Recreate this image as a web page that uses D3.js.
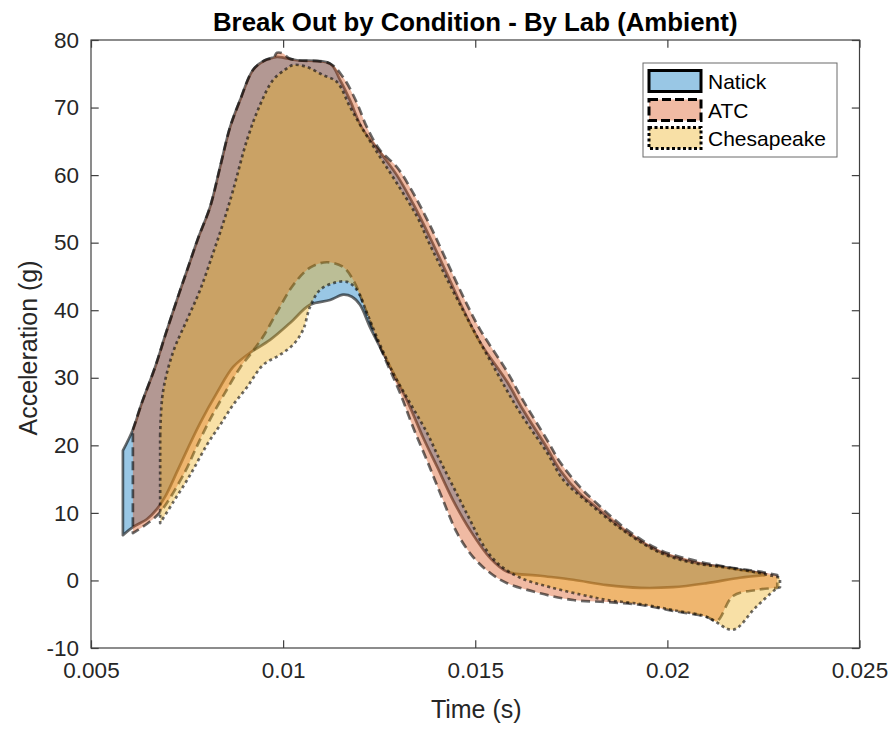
<!DOCTYPE html>
<html>
<head>
<meta charset="utf-8">
<script src="https://cdn.jsdelivr.net/npm/d3@7"></script>
<style>
  html, body { margin: 0; padding: 0; background: #fff; }
  svg { display: block; font-family: "Liberation Sans", Arial, Helvetica, sans-serif; }
</style>
</head>
<body>
<svg id="chart" width="893" height="729"></svg>
<script>
// ---------------- DATA (time in s, acceleration in g) ----------------
const seriesNames = ["Natick", "ATC", "Chesapeake"];
const xTicks = [0.005, 0.01, 0.015, 0.02, 0.025];
const xTickLabels = ["0.005", "0.01", "0.015", "0.02", "0.025"];
const yTicks = [-10, 0, 10, 20, 30, 40, 50, 60, 70, 80];
const yTickLabels = ["-10", "0", "10", "20", "30", "40", "50", "60", "70", "80"];

const natickUpper = [
  [0.00583, 19.2], [0.00609, 22.3], [0.00633, 26.4], [0.00667, 31.6], [0.00695, 36.6],
  [0.00730, 42.6], [0.00753, 46.4], [0.00779, 50.7], [0.00810, 55.3], [0.00836, 61.2],
  [0.00862, 67.1], [0.00888, 71.1], [0.00922, 75.6], [0.00953, 77.0], [0.00975, 77.4],
  [0.00984, 77.5], [0.01000, 77.4], [0.01036, 77.0], [0.01122, 76.5], [0.01148, 74.1],
  [0.01174, 71.1], [0.01205, 67.0], [0.01252, 63.4], [0.01296, 60.0], [0.01338, 55.8],
  [0.01382, 50.8], [0.01427, 45.3], [0.01473, 39.6], [0.01513, 35.2], [0.01583, 29.4],
  [0.01624, 25.3], [0.01687, 19.6], [0.01721, 16.3], [0.01773, 12.8], [0.01807, 11.2],
  [0.01895, 7.1], [0.01981, 4.2], [0.02067, 2.7], [0.02155, 1.9], [0.02241, 1.1],
  [0.02254, 1.0]
];
const natickLower = [
  [0.00583, 6.7], [0.00609, 7.9], [0.00646, 9.1], [0.00672, 10.6], [0.00693, 12.4],
  [0.00724, 16.1], [0.00750, 19.3], [0.00784, 23.3], [0.00828, 27.8], [0.00870, 31.6],
  [0.00914, 33.7], [0.00966, 35.6], [0.01018, 38.1], [0.01070, 40.8], [0.01122, 41.5],
  [0.01156, 42.3], [0.01179, 42.0], [0.01200, 40.8], [0.01226, 37.5], [0.01260, 33.7],
  [0.01296, 29.7], [0.01330, 25.7], [0.01364, 21.2], [0.01401, 16.8], [0.01442, 11.9],
  [0.01486, 7.5], [0.01539, 3.3], [0.01583, 1.3], [0.01669, 0.7], [0.01755, 0.1],
  [0.01843, -0.7], [0.01929, -1.1], [0.02015, -1.0], [0.02103, -0.4], [0.02189, 0.4],
  [0.02254, 0.8]
];

const atcUpper = [
  [0.00609, 22.3], [0.00633, 26.4], [0.00667, 31.6], [0.00695, 36.6], [0.00730, 42.6],
  [0.00753, 46.4], [0.00779, 50.7], [0.00810, 55.3], [0.00836, 61.2], [0.00862, 67.1],
  [0.00888, 71.1], [0.00922, 75.6], [0.00953, 77.0], [0.00975, 77.4], [0.00984, 78.1],
  [0.01000, 78.0], [0.01015, 77.3], [0.01036, 77.0], [0.01122, 76.5], [0.01156, 74.5],
  [0.01192, 70.7], [0.01218, 67.1], [0.01252, 63.7], [0.01296, 61.2], [0.01338, 57.4],
  [0.01382, 52.6], [0.01427, 47.1], [0.01473, 41.5], [0.01513, 37.1], [0.01583, 30.9],
  [0.01624, 26.7], [0.01687, 20.8], [0.01721, 17.5], [0.01773, 13.8], [0.01807, 11.9],
  [0.01895, 7.5], [0.01981, 4.5], [0.02067, 3.0], [0.02155, 2.0], [0.02241, 1.3],
  [0.02286, 0.8]
];
const atcLower = [
  [0.00609, 7.0], [0.00646, 8.4], [0.00680, 10.1], [0.00745, 16.1], [0.00771, 19.3],
  [0.00805, 23.3], [0.00849, 27.8], [0.00888, 31.5], [0.00919, 33.8], [0.00948, 36.1],
  [0.00984, 39.7], [0.01026, 43.7], [0.01070, 46.3], [0.01114, 47.1], [0.01156, 46.4],
  [0.01182, 44.5], [0.01208, 41.1], [0.01234, 37.1], [0.01270, 32.2], [0.01304, 27.8],
  [0.01338, 22.7], [0.01377, 17.4], [0.01416, 11.9], [0.01453, 7.0], [0.01494, 3.5],
  [0.01539, 1.1], [0.01583, -0.4], [0.01669, -1.9], [0.01755, -2.9], [0.01843, -3.2],
  [0.01929, -3.6], [0.02015, -4.5], [0.02103, -5.4], [0.02129, -6.0], [0.02171, -2.3],
  [0.02233, -1.4], [0.02286, -1.1]
];

const chesUpper = [
  [0.00680, 21.5], [0.00687, 27.8], [0.00713, 33.7], [0.00750, 38.6], [0.00784, 43.0],
  [0.00818, 48.5], [0.00844, 52.9], [0.00870, 57.8], [0.00906, 65.2], [0.00940, 70.4],
  [0.00974, 74.1], [0.01005, 75.6], [0.01026, 76.3], [0.01062, 76.0], [0.01104, 74.8],
  [0.01140, 73.8], [0.01174, 70.1], [0.01205, 67.0], [0.01252, 62.7], [0.01296, 58.8],
  [0.01349, 53.8], [0.01382, 49.7], [0.01468, 40.0], [0.01557, 30.7], [0.01617, 24.8],
  [0.01687, 18.9], [0.01729, 14.9], [0.01807, 10.9], [0.01895, 7.0], [0.01981, 4.1],
  [0.02067, 2.6], [0.02155, 1.9], [0.02241, 1.1], [0.02293, 0.4]
];
const chesLower = [
  [0.00680, 8.5], [0.00713, 11.5], [0.00758, 15.6], [0.00802, 20.1], [0.00836, 23.0],
  [0.00870, 26.0], [0.00906, 28.6], [0.00948, 31.9], [0.00992, 33.4], [0.01026, 34.9],
  [0.01052, 37.1], [0.01070, 40.5], [0.01096, 43.0], [0.01130, 44.0], [0.01166, 44.2],
  [0.01192, 43.0], [0.01218, 39.6], [0.01244, 36.0], [0.01286, 30.7], [0.01330, 26.3],
  [0.01375, 21.8], [0.01408, 17.8], [0.01447, 13.4], [0.01486, 9.0], [0.01520, 5.3],
  [0.01557, 2.6], [0.01617, 0.4], [0.01695, -1.0], [0.01799, -2.4], [0.01843, -2.9],
  [0.01929, -3.5], [0.02015, -4.4], [0.02103, -5.4], [0.02171, -7.3], [0.02228, -4.1],
  [0.02280, -1.4], [0.02293, -1.0]
];

const seriesColors = ["#0072BD", "#D95319", "#EDB120"];
const seriesDash = [null, "9,5", "3,3.2"];

// ---------------- CHART ----------------
const svg = d3.select("#chart");
const plot = { left: 91, right: 859.5, top: 40, bottom: 648 };
const x = d3.scaleLinear().domain([0.005, 0.025]).range([plot.left, plot.right]);
const y = d3.scaleLinear().domain([-10, 80]).range([plot.bottom, plot.top]);
const textColor = "#262626";

const series = [
  { name: seriesNames[0], upper: natickUpper, lower: natickLower },
  { name: seriesNames[1], upper: atcUpper, lower: atcLower },
  { name: seriesNames[2], upper: chesUpper, lower: chesLower }
];

const smooth = d3.line().x(d => x(d[0])).y(d => y(d[1])).curve(d3.curveCatmullRom.alpha(0.5));
function bandPath(s) {
  const up = smooth(s.upper);
  const lo = smooth(s.lower.slice().reverse()).replace(/^M/, "L");
  return up + lo + "Z";
}

const g = svg.append("g");
series.forEach((s, i) => {
  const d = bandPath(s);
  g.append("path")
    .attr("d", d)
    .attr("fill", seriesColors[i])
    .attr("fill-opacity", 0.4)
    .attr("stroke", "none");
  g.append("path")
    .attr("d", d)
    .attr("fill", "none")
    .attr("stroke", "#000")
    .attr("stroke-opacity", 0.58)
    .attr("stroke-width", 2.7)
    .attr("stroke-linejoin", "round")
    .attr("stroke-dasharray", seriesDash[i]);
});

// axes box
svg.append("rect")
  .attr("x", plot.left).attr("y", plot.top)
  .attr("width", plot.right - plot.left).attr("height", plot.bottom - plot.top)
  .attr("fill", "none").attr("stroke", "#404040").attr("stroke-width", 1.2);

const tickLen = 7.7;
const xAxisB = d3.axisBottom(x).tickValues(xTicks).tickSize(-tickLen).tickPadding(14)
  .tickFormat((d, i) => xTickLabels[i]);
const gxb = svg.append("g").attr("transform", `translate(0,${plot.bottom})`).call(xAxisB);
gxb.select(".domain").remove();
gxb.selectAll("line").attr("stroke", "#404040").attr("stroke-width", 1.2);
gxb.selectAll("text").attr("font-size", 22.5).attr("fill", textColor)
  .attr("font-family", "Liberation Sans, Arial, sans-serif");

const xAxisT = d3.axisTop(x).tickValues(xTicks).tickSize(-tickLen).tickFormat("");
const gxt = svg.append("g").attr("transform", `translate(0,${plot.top})`).call(xAxisT);
gxt.select(".domain").remove();
gxt.selectAll("line").attr("stroke", "#404040").attr("stroke-width", 1.2);

const yAxisL = d3.axisLeft(y).tickValues(yTicks).tickSize(-tickLen).tickPadding(12)
  .tickFormat((d, i) => yTickLabels[i]);
const gyl = svg.append("g").attr("transform", `translate(${plot.left},0)`).call(yAxisL);
gyl.select(".domain").remove();
gyl.selectAll("line").attr("stroke", "#404040").attr("stroke-width", 1.2);
gyl.selectAll("text").attr("font-size", 22.5).attr("fill", textColor)
  .attr("font-family", "Liberation Sans, Arial, sans-serif");

const yAxisR = d3.axisRight(y).tickValues(yTicks).tickSize(-tickLen).tickFormat("");
const gyr = svg.append("g").attr("transform", `translate(${plot.right},0)`).call(yAxisR);
gyr.select(".domain").remove();
gyr.selectAll("line").attr("stroke", "#404040").attr("stroke-width", 1.2);

// title & labels
svg.append("text")
  .attr("x", (plot.left + plot.right) / 2).attr("y", 31)
  .attr("text-anchor", "middle").attr("font-size", 25.8).attr("font-weight", "bold")
  .attr("fill", "#000").text("Break Out by Condition - By Lab (Ambient)");

svg.append("text")
  .attr("x", (plot.left + plot.right) / 2 + 1).attr("y", 718)
  .attr("text-anchor", "middle").attr("font-size", 25)
  .attr("fill", textColor).text("Time (s)");

svg.append("text")
  .attr("transform", `translate(37,${(plot.top + plot.bottom) / 2 + 4}) rotate(-90)`)
  .attr("text-anchor", "middle").attr("font-size", 25)
  .attr("fill", textColor).text("Acceleration (g)");

// legend
const lg = svg.append("g");
lg.append("rect").attr("x", 643).attr("y", 63).attr("width", 194).attr("height", 94)
  .attr("fill", "#fff").attr("stroke", "#6a6a6a").attr("stroke-width", 1);
const rowY = [81, 110, 138];
series.forEach((s, i) => {
  lg.append("rect")
    .attr("x", 649).attr("y", rowY[i] - 10.5).attr("width", 52).attr("height", 21)
    .attr("fill", seriesColors[i]).attr("fill-opacity", 0.4)
    .attr("stroke", "#000").attr("stroke-width", 3)
    .attr("stroke-dasharray", i === 0 ? null : (i === 1 ? "9,4" : "3,2.5"));
  lg.append("text")
    .attr("x", 708).attr("y", rowY[i] + 7.5)
    .attr("font-size", 21).attr("fill", "#000").text(s.name);
});
</script>
</body>
</html>
